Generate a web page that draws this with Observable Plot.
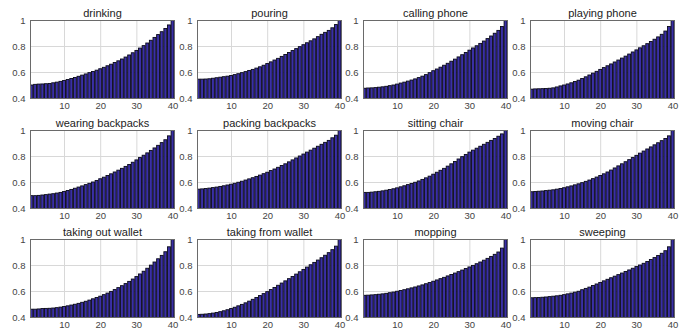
<!DOCTYPE html>
<html>
<head>
<meta charset="utf-8">
<script src="https://cdn.jsdelivr.net/npm/d3@7"></script>
<script src="https://cdn.jsdelivr.net/npm/@observablehq/plot@0.6"></script>
<style>
  html, body { margin: 0; padding: 0; background: #fff; }
  #wrap { position: relative; width: 682px; height: 333px; overflow: hidden; background: #fff; }
  #wrap svg { position: absolute; }
</style>
</head>
<body>
<div id="wrap"></div>
<script>
const titles = ["drinking", "pouring", "calling phone", "playing phone",
  "wearing backpacks", "packing backpacks", "sitting chair", "moving chair",
  "taking out wallet", "taking from wallet", "mopping", "sweeping"];

const xTicks = [10, 20, 30, 40];
const yTicks = [0.4, 0.6, 0.8, 1];

const drinking = [0.50,0.505,0.507,0.508,0.51,0.512,0.517,0.522,0.528,0.535,0.542,0.55,0.558,0.567,0.576,0.585,0.595,0.604,0.614,0.625,0.636,0.648,0.66,0.673,0.686,0.70,0.715,0.731,0.748,0.766,0.784,0.803,0.823,0.844,0.866,0.888,0.91,0.935,0.962,1.0];
const pouring = [0.545,0.545,0.546,0.548,0.552,0.556,0.56,0.564,0.568,0.573,0.58,0.587,0.595,0.603,0.612,0.62,0.63,0.64,0.652,0.665,0.678,0.692,0.705,0.72,0.735,0.75,0.765,0.78,0.795,0.81,0.825,0.84,0.855,0.872,0.89,0.905,0.92,0.94,0.965,1.0];
const callingPhone = [0.475,0.477,0.478,0.48,0.483,0.486,0.49,0.495,0.5,0.507,0.515,0.522,0.53,0.538,0.547,0.557,0.568,0.58,0.595,0.61,0.623,0.637,0.652,0.667,0.683,0.699,0.716,0.733,0.75,0.768,0.785,0.802,0.82,0.838,0.857,0.877,0.898,0.92,0.95,1.0];
const playingPhone = [0.468,0.47,0.471,0.472,0.473,0.475,0.478,0.485,0.493,0.5,0.508,0.517,0.527,0.537,0.55,0.563,0.577,0.591,0.605,0.62,0.634,0.648,0.662,0.677,0.692,0.707,0.722,0.738,0.754,0.77,0.786,0.802,0.818,0.835,0.852,0.87,0.89,0.915,0.95,1.0];
const wearingBackpacks = [0.495,0.495,0.497,0.5,0.503,0.507,0.51,0.515,0.52,0.527,0.535,0.543,0.552,0.561,0.57,0.58,0.59,0.6,0.612,0.625,0.637,0.65,0.663,0.677,0.691,0.705,0.72,0.735,0.752,0.77,0.788,0.806,0.824,0.843,0.862,0.882,0.903,0.925,0.955,1.0];
const packingBackpacks = [0.545,0.547,0.55,0.553,0.557,0.561,0.566,0.571,0.577,0.583,0.59,0.598,0.606,0.615,0.624,0.633,0.643,0.653,0.664,0.675,0.688,0.70,0.713,0.727,0.74,0.755,0.77,0.785,0.80,0.815,0.83,0.845,0.86,0.875,0.89,0.905,0.92,0.94,0.96,1.0];
const sittingChair = [0.52,0.52,0.522,0.525,0.528,0.532,0.537,0.542,0.548,0.555,0.563,0.571,0.58,0.589,0.598,0.608,0.62,0.632,0.645,0.66,0.675,0.69,0.705,0.722,0.74,0.758,0.777,0.795,0.812,0.83,0.845,0.86,0.875,0.89,0.905,0.92,0.935,0.952,0.97,1.0];
const movingChair = [0.525,0.527,0.529,0.531,0.534,0.537,0.54,0.545,0.55,0.556,0.563,0.57,0.578,0.586,0.595,0.605,0.615,0.626,0.638,0.65,0.663,0.677,0.692,0.708,0.724,0.74,0.756,0.772,0.788,0.805,0.822,0.838,0.854,0.87,0.886,0.902,0.918,0.935,0.955,1.0];
const takingOutWallet = [0.46,0.46,0.462,0.465,0.466,0.467,0.469,0.472,0.476,0.481,0.486,0.492,0.498,0.505,0.513,0.521,0.53,0.54,0.55,0.56,0.572,0.584,0.597,0.611,0.626,0.641,0.657,0.674,0.692,0.711,0.731,0.752,0.775,0.799,0.823,0.848,0.874,0.902,0.94,1.0];
const takingFromWallet = [0.42,0.421,0.423,0.426,0.43,0.435,0.441,0.448,0.456,0.465,0.475,0.486,0.497,0.509,0.522,0.536,0.55,0.565,0.58,0.595,0.611,0.627,0.644,0.661,0.678,0.695,0.712,0.73,0.748,0.766,0.784,0.802,0.82,0.838,0.856,0.875,0.895,0.918,0.945,1.0];
const mopping = [0.567,0.568,0.57,0.572,0.575,0.578,0.582,0.587,0.592,0.598,0.604,0.61,0.617,0.624,0.631,0.639,0.647,0.656,0.665,0.675,0.685,0.695,0.705,0.716,0.727,0.738,0.749,0.761,0.773,0.785,0.797,0.81,0.823,0.837,0.851,0.866,0.882,0.90,0.93,1.0];
const sweeping = [0.548,0.549,0.55,0.552,0.554,0.557,0.56,0.563,0.567,0.572,0.578,0.584,0.591,0.598,0.61,0.62,0.63,0.642,0.654,0.666,0.678,0.69,0.702,0.714,0.726,0.738,0.75,0.762,0.775,0.788,0.80,0.813,0.827,0.842,0.857,0.873,0.89,0.91,0.94,1.0];

const series = [drinking, pouring, callingPhone, playingPhone,
  wearingBackpacks, packingBackpacks, sittingChair, movingChair,
  takingOutWallet, takingFromWallet, mopping, sweeping];

const colLeft = [30, 196.5, 363, 529.5];
const rowTop = [20, 129.5, 239];
const mL = 30, mR = 6, mT = 20, mB = 16;
const fw = 144, fh = 78;
const fmt = d => String(+(+d).toFixed(1));

const wrap = document.getElementById("wrap");
series.forEach((vals, k) => {
  const r = Math.floor(k / 4), c = k % 4;
  const chart = Plot.plot({
    width: fw + mL + mR,
    height: fh + mT + mB,
    marginLeft: mL, marginRight: mR, marginTop: mT, marginBottom: mB,
    x: {domain: [0.6, 40.4], label: null},
    y: {domain: [0.4, 1], label: null},
    style: {background: "transparent", fontFamily: "'Liberation Sans', Arial, sans-serif", fontSize: "9.5px", color: "#444", overflow: "visible"},
    marks: [
      Plot.gridX(xTicks, {stroke: "#d8d8d8", strokeOpacity: 1}),
      Plot.gridY([0.6, 0.8], {stroke: "#d8d8d8", strokeOpacity: 1}),
      Plot.rectY(vals, {x1: (d, i) => i + 0.6, x2: (d, i) => i + 1.4, y: d => d, fill: "#3a2fa6", stroke: "#0a0a1a", strokeWidth: 0.9, clip: true}),
      Plot.frame({stroke: "#6a6a6a"}),
      Plot.axisX(xTicks, {anchor: "bottom", tickSize: 0, tickPadding: 4, tickFormat: d => String(d), label: null}),
      Plot.axisY(yTicks, {anchor: "left", tickSize: 0, tickPadding: 5, tickFormat: fmt, label: null}),
      Plot.text([titles[k]], {text: d => d, frameAnchor: "top", lineAnchor: "middle", dy: -7, fontSize: 11, fill: "#222"})
    ]
  });
  chart.style.left = (colLeft[c] - mL) + "px";
  chart.style.top = (rowTop[r] - mT) + "px";
  wrap.appendChild(chart);
});
</script>
</body>
</html>
